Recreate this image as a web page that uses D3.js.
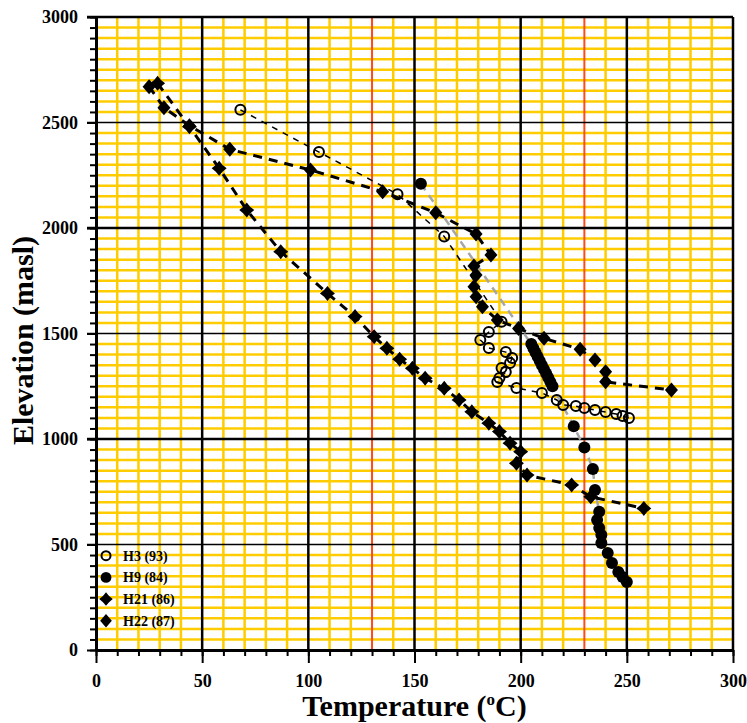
<!DOCTYPE html>
<html>
<head>
<meta charset="utf-8">
<script src="https://cdn.jsdelivr.net/npm/d3@7"></script>
<style>
    body { margin: 0; background: #fff; }
    text { font-family: "Liberation Serif", "Times New Roman", serif; font-weight: bold; fill: #000; }
</style>
</head>
<body>
<div id="chart"></div>
<script>

// well names shown in the legend
let seriesNames = ["H3 (93)", "H9 (84)", "H21 (86)", "H22 (87)"];

// H3 (93)
let h3Temp = [68, 105, 142, 164, 191, 185, 181, 185, 193, 196, 195, 191, 193, 190, 189, 198, 210, 217, 220, 226, 230, 235, 240, 245, 248, 251];
let h3Elev = [2560, 2360, 2160, 1960, 1556, 1507, 1469, 1431, 1412, 1384, 1360, 1336, 1317, 1289, 1270, 1242, 1218, 1185, 1161, 1156, 1147, 1137, 1128, 1118, 1109, 1099];

// H9 (84)
let h9Temp = [153, 205, 206, 207, 208, 209, 210, 211, 212, 213, 214, 215, 225, 230, 234, 235, 237, 236, 237, 238, 238, 241, 243, 246, 248, 250];
let h9Elev = [2210, 1450, 1430, 1410, 1390, 1370, 1350, 1330, 1310, 1290, 1270, 1250, 1060, 960, 858, 758, 655, 616, 578, 545, 507, 460, 412, 370, 346, 322];

// H21 (86)
let h21Temp = [29, 44, 58, 71, 87, 109, 122, 131, 137, 143, 149, 155, 164, 171, 177, 185, 190, 195, 200, 198, 203, 224, 233, 258];
let h21Elev = [2686, 2480, 2283, 2085, 1888, 1690, 1580, 1485, 1430, 1378, 1335, 1288, 1240, 1185, 1129, 1075, 1035, 980, 940, 885, 829, 782, 726, 671];

// H22 (87)
let h22Temp = [25, 32, 44, 63, 101, 135, 160, 179, 186, 178, 179, 178, 179, 182, 189, 199, 211, 228, 235, 240, 240, 271];
let h22Elev = [2670, 2570, 2485, 2373, 2275, 2172, 2072, 1971, 1872, 1820, 1777, 1722, 1674, 1627, 1564, 1524, 1477, 1425, 1374, 1319, 1271, 1232];

let xTicks = [0, 50, 100, 150, 200, 250, 300];
let yTicks = [0, 500, 1000, 1500, 2000, 2500, 3000];
let redLines = [130, 230];

let margin = {top: 17, right: 14, bottom: 73, left: 96};
let width = 747 - margin.left - margin.right;
let height = 723 - margin.top - margin.bottom;

let svg = d3.select("#chart").append("svg")
    .attr("width", 747)
    .attr("height", 723)
    .append("g")
    .attr("transform", `translate(${margin.left}, ${margin.top})`);

let x = d3.scaleLinear().domain([0, 300]).range([0, width]);
let y = d3.scaleLinear().domain([0, 3000]).range([height, 0]);

// grid: yellow minor lines
let grid = svg.append("g").attr("class", "grid");

grid.selectAll(".vy")
    .data(d3.range(10, 300, 10).filter(v => v % 50 !== 0 && !redLines.includes(v)))
    .enter().append("line")
    .attr("x1", d => x(d)).attr("x2", d => x(d))
    .attr("y1", y(0)).attr("y2", y(3000))
    .attr("stroke", "#FFCC00")
    .attr("stroke-width", 2.5);

grid.selectAll(".hy")
    .data(d3.range(50, 3000, 50).filter(v => v % 500 !== 0))
    .enter().append("line")
    .attr("y1", d => y(d)).attr("y2", d => y(d))
    .attr("x1", x(0)).attr("x2", x(300))
    .attr("stroke", "#FFCC00")
    .attr("stroke-width", 2.5);

// red lines at 130 and 230
grid.selectAll(".vr")
    .data(redLines)
    .enter().append("line")
    .attr("x1", d => x(d)).attr("x2", d => x(d))
    .attr("y1", y(0)).attr("y2", y(3000))
    .attr("stroke", "#FF4A1A")
    .attr("stroke-width", 2);

// black major lines
grid.selectAll(".vb")
    .data(xTicks.slice(1))
    .enter().append("line")
    .attr("x1", d => x(d)).attr("x2", d => x(d))
    .attr("y1", y(0)).attr("y2", y(3000))
    .attr("stroke", "#000")
    .attr("stroke-width", 2.5);

grid.selectAll(".hb")
    .data(yTicks.slice(1))
    .enter().append("line")
    .attr("y1", d => y(d)).attr("y2", d => y(d))
    .attr("x1", x(0) - 9).attr("x2", x(300))
    .attr("stroke", "#000")
    .attr("stroke-width", d => d % 1000 === 0 ? 2.5 : 1.5);

// axes
let xMinor = d3.axisBottom(x).tickValues(d3.range(0, 301, 10)).tickSize(6).tickSizeOuter(0).tickFormat("");
let xMajor = d3.axisBottom(x).tickValues(xTicks).tickSize(13).tickSizeOuter(0).tickPadding(11).tickFormat(d3.format("d"));
let yMinor = d3.axisLeft(y).tickValues(d3.range(0, 3001, 50)).tickSize(6).tickSizeOuter(0).tickFormat("");
let yMajor = d3.axisLeft(y).tickValues(yTicks).tickSize(9).tickSizeOuter(0).tickPadding(9).tickFormat(d3.format("d"));

[xMinor, xMajor].forEach(ax => {
    svg.append("g")
        .attr("class", "x-axis axis")
        .attr("transform", `translate(0, ${height})`)
        .call(ax);
});
[yMinor, yMajor].forEach(ax => {
    svg.append("g")
        .attr("class", "y-axis axis")
        .call(ax);
});

svg.selectAll(".axis .domain").attr("stroke", "#000").attr("stroke-width", 3);
svg.selectAll(".axis .tick line").attr("stroke", "#000").attr("stroke-width", 2);
svg.selectAll(".axis text")
    .style("font-family", "'Liberation Serif', serif")
    .style("font-weight", "bold")
    .style("font-size", "18px")
    .attr("fill", "#000");

// series
let line = d3.line().x(d => x(d[0])).y(d => y(d[1]));

let series = [
    {name: seriesNames[0], pts: d3.zip(h3Temp, h3Elev), stroke: "#000", sw: 1.5, dash: "6,6", mark: "open"},
    {name: seriesNames[1], pts: d3.zip(h9Temp, h9Elev), stroke: "#A6A6A6", sw: 2.5, dash: "8,6", mark: "dot"},
    {name: seriesNames[2], pts: d3.zip(h21Temp, h21Elev), stroke: "#000", sw: 3, dash: "9,7", mark: "star"},
    {name: seriesNames[3], pts: d3.zip(h22Temp, h22Elev), stroke: "#000", sw: 3, dash: "9,7", mark: "diamond"}
];

// four-point star for H21
function starPath(r) {
    let k = r * 0.45;
    return `M0,${-r}L${k},${-k}L${r},0L${k},${k}L0,${r}L${-k},${k}L${-r},0L${-k},${-k}Z`;
}

// diamond for H22
function diamondPath(rx, ry) {
    return `M0,${-ry}L${rx},0L0,${ry}L${-rx},0Z`;
}

function drawMark(sel, type, scale) {
    let s = scale || 1;
    if (type === "open") {
        sel.append("circle").attr("r", 5 * s).attr("fill", "none").attr("stroke", "#000").attr("stroke-width", 2);
    } else if (type === "dot") {
        sel.append("circle").attr("r", 6 * s).attr("fill", "#000");
    } else if (type === "star") {
        sel.append("path").attr("d", starPath(7.5 * s)).attr("fill", "#000");
    } else {
        sel.append("path").attr("d", diamondPath(6.5 * s, 7.5 * s)).attr("fill", "#000");
    }
}

series.forEach(s => {
    svg.append("path")
        .datum(s.pts)
        .attr("d", line)
        .attr("fill", "none")
        .attr("stroke", s.stroke)
        .attr("stroke-width", s.sw)
        .attr("stroke-dasharray", s.dash);
});

series.forEach(s => {
    let g = svg.append("g").selectAll("g")
        .data(s.pts)
        .enter().append("g")
        .attr("transform", d => `translate(${x(d[0])}, ${y(d[1])})`);
    drawMark(g, s.mark);
});

// legend
let legend = svg.append("g")
    .attr("transform", `translate(${x(0) + 10}, ${555.7 - margin.top})`);

series.forEach((s, i) => {
    let row = legend.append("g").attr("transform", `translate(0, ${i * 21.7})`);
    drawMark(row.append("g"), s.mark, 0.9);
    row.append("text")
        .attr("x", 17)
        .attr("y", 5)
        .style("font-size", "14px")
        .text(s.name);
});

// axis titles
let xTitle = svg.append("text")
    .attr("x", width / 2)
    .attr("y", height + 66)
    .attr("text-anchor", "middle")
    .style("font-size", "30px");
xTitle.append("tspan").text("Temperature (");
xTitle.append("tspan").attr("dy", -11).style("font-size", "17px").text("o");
xTitle.append("tspan").attr("dy", 11).text("C)");

svg.append("text")
    .attr("transform", `translate(${-margin.left + 33}, ${height / 2 + 7}) rotate(-90)`)
    .attr("text-anchor", "middle")
    .style("font-size", "30px")
    .text("Elevation (masl)");

</script>
</body>
</html>
